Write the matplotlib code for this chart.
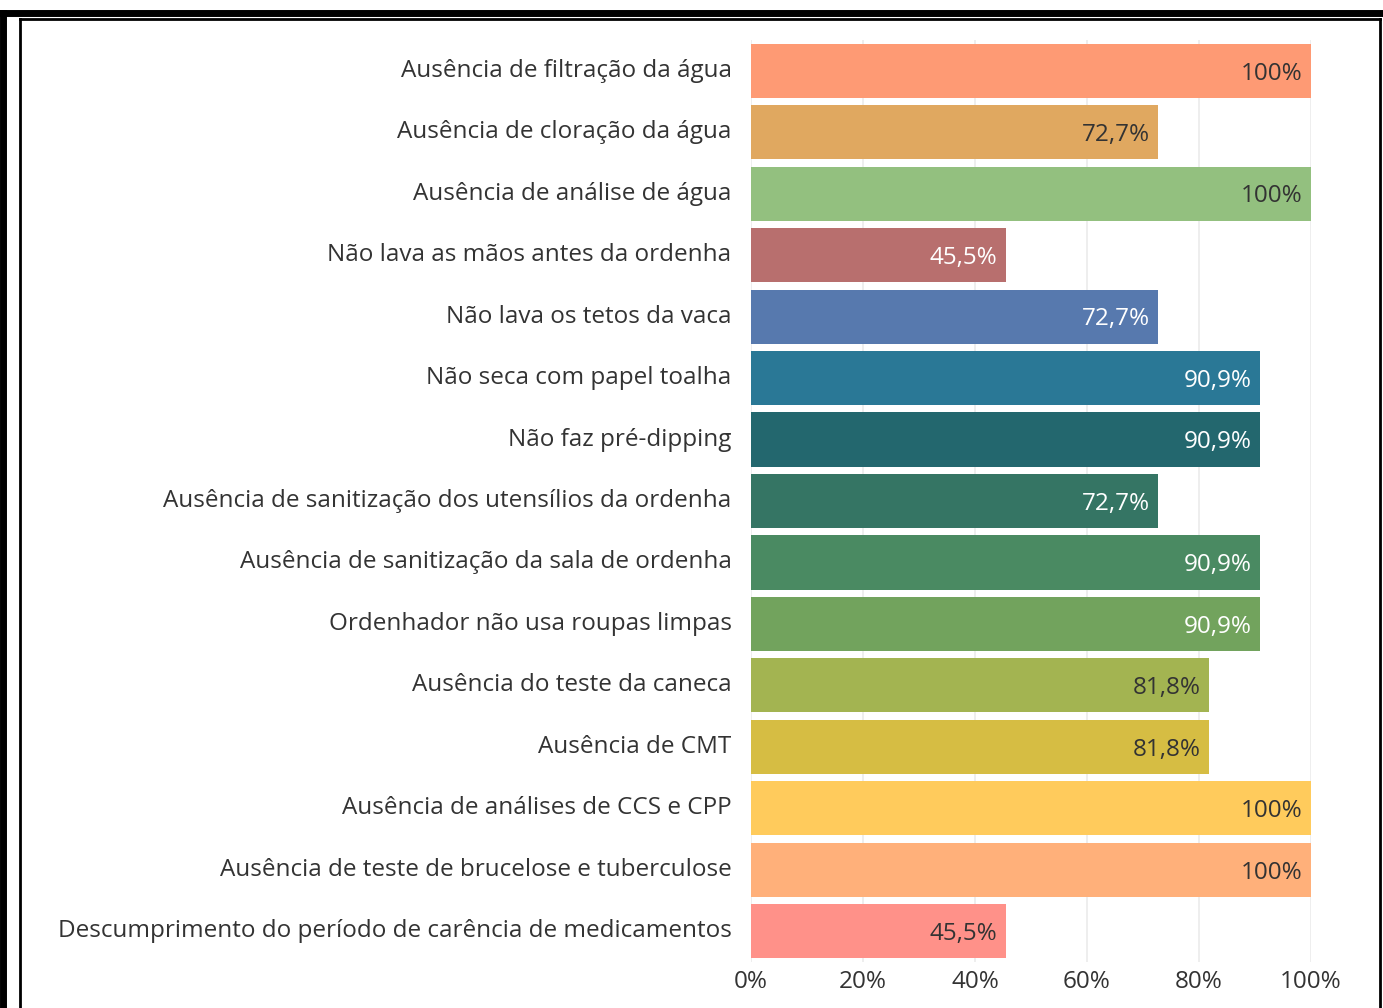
import matplotlib.pyplot as plt
import matplotlib.transforms as mtransforms
from matplotlib.lines import Line2D

plt.rcParams['font.family'] = ['Open Sans', 'DejaVu Sans']

categories = [
    'Ausência de filtração da água',
    'Ausência de cloração da água',
    'Ausência de análise de água',
    'Não lava as mãos antes da ordenha',
    'Não lava os tetos da vaca',
    'Não seca com papel toalha',
    'Não faz pré-dipping',
    'Ausência de sanitização dos utensílios da ordenha',
    'Ausência de sanitização da sala de ordenha',
    'Ordenhador não usa roupas limpas',
    'Ausência do teste da caneca',
    'Ausência de CMT',
    'Ausência de análises de CCS e CPP',
    'Ausência de teste de brucelose e tuberculose',
    'Descumprimento do período de carência de medicamentos',
]
values = [100, 72.7, 100, 45.5, 72.7, 90.9, 90.9, 72.7, 90.9, 90.9, 81.8, 81.8, 100, 100, 45.5]
value_labels = ['100%', '72,7%', '100%', '45,5%', '72,7%', '90,9%', '90,9%', '72,7%',
                '90,9%', '90,9%', '81,8%', '81,8%', '100%', '100%', '45,5%']
colors = ['#FE9A74', '#E0A860', '#93C07F', '#B86F6E', '#5779AE', '#2A7896', '#23676E',
          '#357564', '#4A8A62', '#72A35D', '#A3B451', '#D6BD43', '#FFCB5C', '#FFB07A', '#FF9189']
label_colors = ['#333333'] * 3 + ['white'] * 7 + ['#333333'] * 5
xticks = [0, 20, 40, 60, 80, 100]

fs = 17.5

fig = plt.figure(figsize=(13.83, 10.08), dpi=100)
ax = fig.add_axes([751 / 1383, 1 - 962 / 1008, 560 / 1383, (962 - 40) / 1008])

y = list(range(len(categories)))
ax.barh(y, values, height=0.88, color=colors, zorder=2)
for yi, v, lab, c in zip(y, values, value_labels, label_colors):
    ax.annotate(lab, (v, yi), xytext=(-6, -2), textcoords='offset points',
                ha='right', va='center', fontsize=fs, color=c, zorder=3)

ax.set_ylim(len(categories) - 0.5, -0.5)
ax.set_xlim(0, 100)
ax.set_yticks(y)
ax.set_yticklabels(categories, fontsize=fs, color='#333333')
ax.set_xticks(xticks)
ax.set_xticklabels([f'{t}%' for t in xticks], fontsize=fs, color='#333333')
ax.tick_params(length=0)
ax.tick_params(axis='x', pad=6)
ax.tick_params(axis='y', pad=14)
ax.grid(axis='x', color='#ebebeb', linewidth=1.2, zorder=0)
for s in ax.spines.values():
    s.set_visible(False)

# category labels sit a little above bar centre
shift = mtransforms.ScaledTranslation(0, 3 / 100, fig.dpi_scale_trans)
for t in ax.get_yticklabels():
    t.set_transform(t.get_transform() + shift)

# screenshot frame
W, H = 1383, 1008
fig.add_artist(Line2D([3 / W, 3 / W], [0, 1 - 13 / H], transform=fig.transFigure,
                      color='black', linewidth=5))
fig.add_artist(Line2D([3 / W, 1], [1 - 13 / H, 1 - 13 / H], transform=fig.transFigure,
                      color='black', linewidth=5))
fig.add_artist(Line2D([20 / W, 20 / W], [0, 1 - 19 / H], transform=fig.transFigure,
                      color='black', linewidth=2))
fig.add_artist(Line2D([20 / W, 1380 / W], [1 - 19 / H, 1 - 19 / H], transform=fig.transFigure,
                      color='black', linewidth=2))
fig.add_artist(Line2D([1380 / W, 1380 / W], [0, 1 - 19 / H], transform=fig.transFigure,
                      color='black', linewidth=2))

fig.savefig('out.png', dpi=100)
